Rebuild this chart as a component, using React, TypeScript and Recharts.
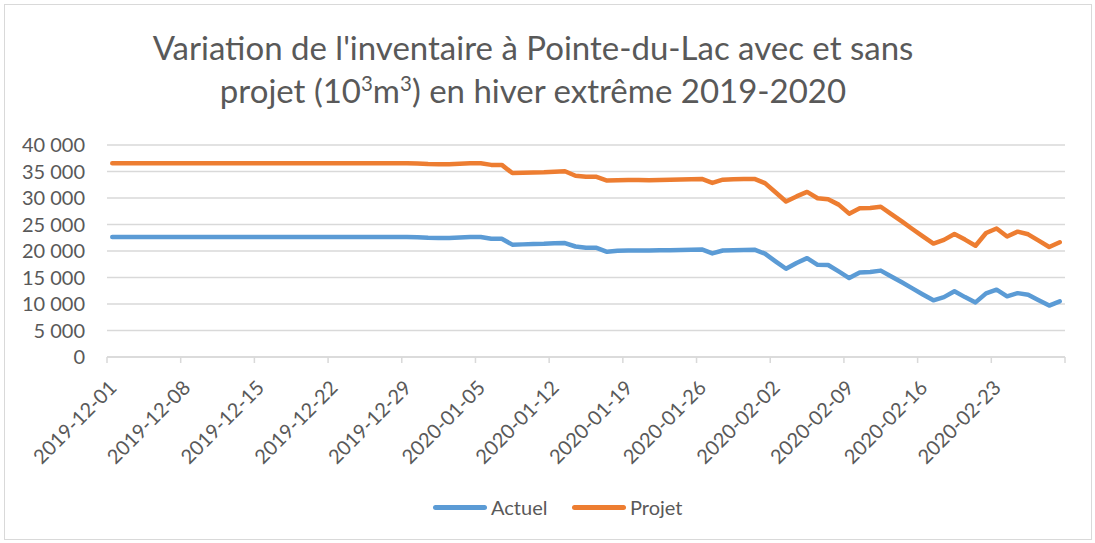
import React from 'react'
import { LineChart, Line, XAxis, YAxis, CartesianGrid } from 'recharts'

// daily values, 2019-12-01 .. 2020-02-29 (91 days)
const actuel = [
  22650, 22650, 22650, 22650, 22650, 22650, 22650, 22650, 22650, 22650,
  22650, 22650, 22650, 22650, 22650, 22650, 22650, 22650, 22650, 22650,
  22650, 22650, 22650, 22650, 22650, 22650, 22650, 22650, 22650, 22600,
  22480, 22450, 22450, 22550, 22650, 22650, 22300, 22300, 21200, 21250,
  21300, 21350, 21450, 21500, 20850, 20600, 20600, 19850, 20050, 20100,
  20100, 20100, 20150, 20150, 20200, 20250, 20300, 19550, 20100, 20150,
  20200, 20250, 19500, 18050, 16650, 17750, 18650, 17400, 17350, 16150,
  14900, 15950, 16050, 16300, 15200, 14100, 12950, 11800, 10700, 11300,
  12400, 11300, 10300, 12000, 12700, 11450, 12050, 11750, 10700, 9700,
  10500,
]

const projet = [
  36550, 36550, 36550, 36550, 36550, 36550, 36550, 36550, 36550, 36550,
  36550, 36550, 36550, 36550, 36550, 36550, 36550, 36550, 36550, 36550,
  36550, 36550, 36550, 36550, 36550, 36550, 36550, 36550, 36550, 36500,
  36400, 36350, 36350, 36450, 36550, 36550, 36250, 36250, 34700, 34750,
  34800, 34850, 34950, 35050, 34200, 34000, 34000, 33300, 33350, 33400,
  33400, 33350, 33400, 33450, 33500, 33550, 33600, 32850, 33450, 33550,
  33600, 33600, 32800, 31100, 29350, 30300, 31150, 29950, 29750, 28750,
  27050, 28050, 28100, 28350, 26950, 25600, 24150, 22750, 21400, 22100,
  23200, 22150, 21000, 23400, 24250, 22750, 23650, 23150, 21950, 20750,
  21650,
]

// weekly ticks on the day axis (last one has no label)
const xTicks = [0, 7, 14, 21, 28, 35, 42, 49, 56, 63, 70, 77, 84, 91]
const xTickLabels = [
  '2019-12-01', '2019-12-08', '2019-12-15', '2019-12-22', '2019-12-29',
  '2020-01-05', '2020-01-12', '2020-01-19', '2020-01-26', '2020-02-02',
  '2020-02-09', '2020-02-16', '2020-02-23', '',
]
const yTicks = [0, 5000, 10000, 15000, 20000, 25000, 30000, 35000, 40000]

const data = actuel.map((a, i) => ({ day: i + 0.5, actuel: a, projet: projet[i] }))

const FONT = 'Lato, "Open Sans", sans-serif'
const TEXT = '#595959'
const GRID = '#d9d9d9'
const BLUE = '#5b9bd5'
const ORANGE = '#ed7d31'

const fmt = (v: number) => String(v).replace(/\B(?=(\d{3})+(?!\d))/g, ' ')

const DateTick = (props: any) => {
  const { x, y, index } = props
  const label = xTickLabels[index] || ''
  const ax = x + 11
  const ay = y + 24
  return (
    <text
      x={ax}
      y={ay}
      transform={`rotate(-45, ${ax}, ${ay})`}
      textAnchor="end"
      fill={TEXT}
      fontSize={20}
      fontFamily={FONT}
    >
      {label}
    </text>
  )
}

const Sup = ({ children }: { children: React.ReactNode }) => (
  <span style={{ fontSize: '0.62em', position: 'relative', top: -12 }}>{children}</span>
)

export default function App() {
  return (
    <div
      style={{
        position: 'absolute',
        left: 0,
        top: 0,
        width: 1095,
        height: 543,
        background: '#fff',
        fontFamily: FONT,
        color: TEXT,
      }}
    >
      <div
        style={{
          position: 'absolute',
          left: 4,
          top: 4,
          width: 1086,
          height: 534,
          border: `1px solid ${GRID}`,
        }}
      />
      <div
        style={{
          position: 'absolute',
          left: 0,
          top: 26,
          width: 1066,
          textAlign: 'center',
          fontSize: 33,
          lineHeight: '43px',
          whiteSpace: 'nowrap',
        }}
      >
        Variation de l'inventaire à Pointe-du-Lac avec et sans
        <br />
        projet (10<Sup>3</Sup>m<Sup>3</Sup>) en hiver extrême 2019-2020
      </div>

      <LineChart
        width={1095}
        height={543}
        data={data}
        margin={{ top: 145, right: 30, left: 0, bottom: 0 }}
        style={{ position: 'absolute', left: 0, top: 0 }}
      >
        <CartesianGrid vertical={false} stroke={GRID} strokeWidth={1.5} />
        <XAxis
          dataKey="day"
          type="number"
          domain={[0, 91]}
          ticks={xTicks}
          interval={0}
          height={186}
          stroke={GRID}
          strokeWidth={1.5}
          tickSize={6}
          tick={<DateTick />}
        />
        <YAxis
          domain={[0, 40000]}
          ticks={yTicks}
          interval={0}
          width={107}
          axisLine={false}
          tickLine={false}
          tickSize={0}
          tickMargin={22}
          tickFormatter={fmt}
          tick={{ fill: TEXT, fontSize: 20, fontFamily: FONT }}
        />
        <Line
          type="linear"
          dataKey="actuel"
          stroke={BLUE}
          strokeWidth={4.5}
          strokeLinecap="round"
          strokeLinejoin="round"
          dot={false}
          isAnimationActive={false}
        />
        <Line
          type="linear"
          dataKey="projet"
          stroke={ORANGE}
          strokeWidth={4.5}
          strokeLinecap="round"
          strokeLinejoin="round"
          dot={false}
          isAnimationActive={false}
        />
      </LineChart>

      {[
        { name: 'Actuel', color: BLUE, x: 433 },
        { name: 'Projet', color: ORANGE, x: 572 },
      ].map((it) => (
        <div key={it.name}>
          <div
            style={{
              position: 'absolute',
              left: it.x,
              top: 505,
              width: 54,
              height: 5,
              borderRadius: 3,
              background: it.color,
            }}
          />
          <div
            style={{
              position: 'absolute',
              left: it.x + 58,
              top: 495,
              fontSize: 20,
              lineHeight: '24px',
            }}
          >
            {it.name}
          </div>
        </div>
      ))}
    </div>
  )
}
